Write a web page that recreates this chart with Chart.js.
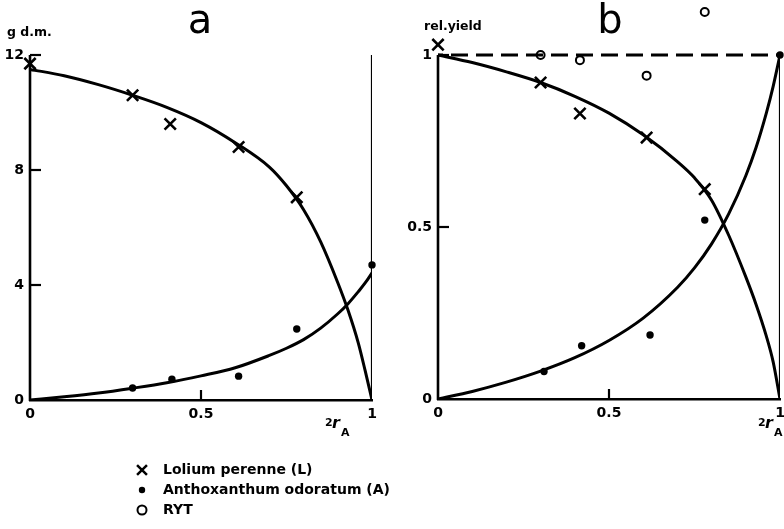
<!DOCTYPE html>
<html>
<head>
<meta charset="utf-8">
<script src="https://cdn.jsdelivr.net/npm/chart.js@4.4.0/dist/chart.umd.min.js"></script>
<style>
  html, body { margin: 0; padding: 0; background: #fff; }
  #wrap { position: relative; width: 784px; height: 529px; overflow: hidden; }
  canvas { position: absolute; }
  #chartA { left: 0; top: 0; }
  #chartB { left: 0; top: -20px; }
</style>
</head>
<body>
<div id="wrap">
  <canvas id="chartA" width="784" height="529"></canvas>
  <canvas id="chartB" width="804" height="549"></canvas>
</div>
<script>
// ---- Panel a: yield in g dry matter against 2r_A ----
const lolX_a = [0, 0.30, 0.41, 0.61, 0.78];
const lolY_a = [11.7, 10.6, 9.6, 8.8, 7.05];
const antX_a = [0.30, 0.415, 0.61, 0.78, 1.0];
const antY_a = [0.42, 0.72, 0.83, 2.47, 4.7];
// fitted replacement curves
const fitX = [0, 0.1, 0.2, 0.3, 0.4, 0.5, 0.6, 0.7, 0.75, 0.8, 0.85, 0.9, 0.93, 0.96, 0.98, 1.0];
const lolFitY_a = [11.5, 11.28, 10.97, 10.6, 10.18, 9.65, 8.95, 8.1, 7.45, 6.62, 5.5, 4.08, 3.12, 1.98, 1.02, 0];
const antFitY_a = [0, 0.11, 0.24, 0.41, 0.6, 0.84, 1.12, 1.55, 1.8, 2.1, 2.5, 3.0, 3.35, 3.77, 4.07, 4.42];
const yTicks_a = [0, 4, 8, 12];
const yTickLabels_a = ['0', '4', '8', '12'];

// ---- Panel b: relative yield against 2r_A ----
const lolX_b = [0, 0.30, 0.415, 0.61, 0.78];
const lolY_b = [1.03, 0.92, 0.83, 0.76, 0.61];
const antX_b = [0.31, 0.42, 0.62, 0.78, 1.0];
const antY_b = [0.08, 0.155, 0.186, 0.52, 1.0];
const rytX_b = [0.30, 0.415, 0.61, 0.78];
const rytY_b = [1.0, 0.985, 0.94, 1.125];
const lolFitY_b = [1.0, 0.978, 0.951, 0.92, 0.88, 0.831, 0.768, 0.69, 0.643, 0.578, 0.476, 0.355, 0.275, 0.183, 0.108, 0];
const antFitY_b = [0, 0.022, 0.049, 0.081, 0.12, 0.17, 0.235, 0.324, 0.381, 0.451, 0.538, 0.649, 0.731, 0.831, 0.909, 1.0];
const yTicks_b = [0, 0.5, 1];
const yTickLabels_b = ['0', '0.5', '1'];

// shared x axis
const xTicks = [0, 0.5, 1];
const xTickLabels = ['0', '0.5', '1'];

const legendItems = ['Lolium perenne (L)', 'Anthoxanthum odoratum (A)', 'RYT'];

const INK = '#000';
const pts = (xs, ys) => xs.map((x, i) => ({ x, y: ys[i] }));
const tickFont = { family: 'DejaVu Sans', size: 14, weight: 'bold' };

const curve = (data) => ({
  type: 'line', data, showLine: true, borderColor: INK, borderWidth: 3,
  pointRadius: 0, cubicInterpolationMode: 'monotone', fill: false
});
const straight = (data, extra) => ({
  type: 'line', data, showLine: true, borderColor: INK, borderWidth: 2.2,
  pointRadius: 0, tension: 0, fill: false, ...extra
});
const crosses = (data) => ({
  type: 'scatter', data, pointStyle: 'crossRot', pointRadius: 8,
  borderColor: INK, borderWidth: 2.6, backgroundColor: INK, clip: false
});
const dots = (data) => ({
  type: 'scatter', data, pointStyle: 'circle', pointRadius: 3.7,
  borderColor: INK, borderWidth: 0, backgroundColor: INK, clip: false
});
const rings = (data) => ({
  type: 'scatter', data, pointStyle: 'circle', pointRadius: 4,
  borderColor: INK, borderWidth: 2, backgroundColor: 'rgba(0,0,0,0)', clip: false
});

function drawText(ctx, txt, x, y, font, align) {
  ctx.save();
  ctx.fillStyle = INK;
  ctx.font = font;
  ctx.textAlign = align || 'left';
  ctx.textBaseline = 'alphabetic';
  ctx.fillText(txt, x, y);
  ctx.restore();
}

// left axis line up to the top tick, inward tick marks, panel letter, axis names
function decorations(cfg) {
  const oy = cfg.offsetY || 0;
  return {
    id: 'decor' + cfg.letter,
    afterDraw(chart) {
      const { ctx, scales: { x, y } } = chart;
      const top = cfg.yTicks[cfg.yTicks.length - 1];
      ctx.save();
      ctx.strokeStyle = INK;
      ctx.lineWidth = 2.6;
      ctx.beginPath();
      ctx.moveTo(x.left, y.getPixelForValue(0) + 1);
      ctx.lineTo(x.left, y.getPixelForValue(top));
      ctx.stroke();
      ctx.lineWidth = 2.2;
      cfg.yTicks.forEach(v => {
        if (v === 0) return;
        const py = y.getPixelForValue(v);
        ctx.beginPath();
        ctx.moveTo(x.left, py);
        ctx.lineTo(x.left + 11, py);
        ctx.stroke();
      });
      const px = x.getPixelForValue(0.5);
      ctx.beginPath();
      ctx.moveTo(px, y.getPixelForValue(0));
      ctx.lineTo(px, y.getPixelForValue(0) - 10);
      ctx.stroke();
      ctx.restore();

      drawText(ctx, cfg.letter, cfg.letterX, 33 + oy, '40px "DejaVu Sans"', 'center');
      drawText(ctx, cfg.yName, cfg.yNameX, cfg.yNameY + oy, 'bold 12.5px "DejaVu Sans"');
      // 2r_A
      const lx = cfg.xNameX, ly = 428 + oy;
      drawText(ctx, '2', lx, ly - 2, 'bold 11px "DejaVu Sans"');
      drawText(ctx, 'r', lx + 7, ly, 'italic bold 16px "DejaVu Sans"');
      drawText(ctx, 'A', lx + 16, ly + 8, 'bold 11px "DejaVu Sans"');
    }
  };
}

const legendPlugin = {
  id: 'legendBlock',
  afterDraw(chart) {
    const { ctx } = chart;
    const styles = [
      { pointStyle: 'crossRot', radius: 7, borderWidth: 2.5 },
      { pointStyle: 'circle', radius: 3.2, borderWidth: 0 },
      { pointStyle: 'circle', radius: 4.5, borderWidth: 2 }
    ];
    legendItems.forEach((label, i) => {
      const cy = 470 + i * 20;
      ctx.save();
      ctx.strokeStyle = INK;
      ctx.fillStyle = i === 2 ? 'rgba(0,0,0,0)' : INK;
      ctx.lineWidth = styles[i].borderWidth;
      Chart.helpers.drawPoint(ctx, styles[i], 142, cy);
      ctx.restore();
      ctx.save();
      ctx.fillStyle = INK;
      ctx.font = 'bold 14px "DejaVu Sans"';
      ctx.textBaseline = 'middle';
      ctx.fillText(label, 163, cy);
      ctx.restore();
    });
  }
};

function axes(yMax, yTicks, yLabels, yWidth) {
  return {
    x: {
      type: 'linear', min: 0, max: 1,
      afterBuildTicks(s) { s.ticks = xTicks.map(v => ({ value: v })); },
      afterFit(s) { s.height = 28; s.paddingLeft = 0; s.paddingRight = 0; },
      ticks: { font: tickFont, color: INK, padding: 6, maxRotation: 0, autoSkip: false,
               callback: (v, i) => xTickLabels[i] },
      grid: { display: false, drawTicks: false },
      border: { display: true, color: INK, width: 2.6 }
    },
    y: {
      type: 'linear', min: 0, max: yMax,
      afterBuildTicks(s) { s.ticks = yTicks.map(v => ({ value: v })); },
      afterFit(s) { s.width = yWidth; s.paddingTop = 0; s.paddingBottom = 0; },
      ticks: { font: tickFont, color: INK, padding: 6, autoSkip: false,
               callback: (v, i) => yLabels[i] },
      grid: { display: false, drawTicks: false },
      border: { display: false }
    }
  };
}

const baseOptions = (padding, scales) => ({
  responsive: false, animation: false,
  layout: { padding },
  plugins: { legend: { display: false }, tooltip: { enabled: false }, title: { display: false } },
  scales
});

// Panel a
new Chart(document.getElementById('chartA'), {
  type: 'scatter',
  data: {
    datasets: [
      curve(pts(fitX, lolFitY_a)),
      curve(pts(fitX, antFitY_a)),
      straight([{ x: 1, y: 0 }, { x: 1, y: 12 }]),
      crosses(pts(lolX_a, lolY_a)),
      dots(pts(antX_a, antY_a))
    ]
  },
  options: baseOptions({ left: 0, right: 412, top: 55, bottom: 101 },
                       axes(12, yTicks_a, yTickLabels_a, 30)),
  plugins: [decorations({ letter: 'a', letterX: 200, yTicks: yTicks_a, yName: 'g d.m.',
                          yNameX: 7, yNameY: 36, xNameX: 325 }), legendPlugin]
});

// Panel b (value range extends above 1 for the highest RYT point);
// its canvas is shifted up by 20px and runs 20px past the right edge
new Chart(document.getElementById('chartB'), {
  type: 'scatter',
  data: {
    datasets: [
      curve(pts(fitX, lolFitY_b)),
      curve(pts(fitX, antFitY_b)),
      straight([{ x: 1, y: 0 }, { x: 1, y: 1 }]),
      straight([{ x: 0, y: 1 }, { x: 1, y: 1 }], { borderWidth: 2.8, borderDash: [17, 8], borderDashOffset: 12 }),
      crosses(pts(lolX_b, lolY_b)),
      dots(pts(antX_b, antY_b)),
      rings(pts(rytX_b, rytY_b))
    ]
  },
  options: baseOptions({ left: 392, right: 24, top: 23.4, bottom: 102 },
                       axes(1.15, yTicks_b, yTickLabels_b, 46)),
  plugins: [decorations({ letter: 'b', letterX: 610, yTicks: yTicks_b, yName: 'rel.yield',
                          yNameX: 424, yNameY: 30, xNameX: 758, offsetY: 20 })]
});
</script>
</body>
</html>
